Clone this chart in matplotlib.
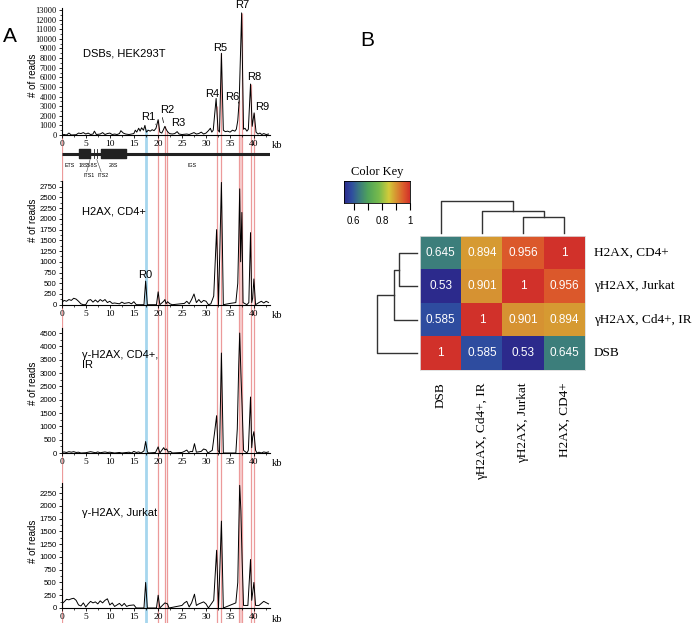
import numpy as np
import matplotlib
matplotlib.use('Agg')
import matplotlib.pyplot as plt
from matplotlib.colors import LinearSegmentedColormap
from matplotlib.ticker import MultipleLocator

# ---------------- data ----------------
dsb_kb = [0, 0.5, 1, 1.5, 2, 3, 3.5, 4, 4.5, 5, 5.5, 6, 6.5, 6.8, 7.2, 8, 8.5, 9, 9.5, 10, 10.5, 11, 11.5, 12,
          12.3, 12.8, 13.3, 14, 14.5, 15, 15.3, 15.6, 16, 16.3, 16.6, 17, 17.3, 17.6, 18, 18.4, 18.8, 19.2, 19.6,
          20.05, 20.4, 20.8, 21.1, 21.45, 21.7, 22, 22.4, 23, 23.5, 24, 24.4, 25, 26, 26.5, 27.5, 28, 28.5, 29,
          29.5, 30, 30.5, 30.9, 31.2, 31.5, 32.1, 32.5, 32.8, 33.2, 33.6, 34, 34.5, 35, 35.5, 36, 36.3, 36.6,
          36.9, 37.4, 37.8, 38.1, 38.5, 38.8, 39.25, 39.6, 40.0, 40.4, 40.8, 41.2, 41.6, 42, 42.5, 43]
dsb_reads = [0, 50, 0, 200, 0, 30, 200, 150, 250, 100, 200, 50, 100, 400, 50, 100, 250, 50, 150, 200, 50, 100, 50,
             150, 450, 200, 100, 50, 100, 150, 500, 300, 700, 400, 750, 500, 1000, 300, 500, 400, 550, 450, 700,
             1600, 300, 200, 500, 900, 600, 350, 150, 100, 150, 350, 100, 50, 100, 50, 250, 100, 150, 300, 100,
             200, 450, 700, 300, 500, 3800, 500, 300, 8500, 500, 350, 400, 300, 500, 400, 600, 1500, 3600, 12700,
             600, 700, 400, 600, 5300, 900, 2300, 300, 100, 200, 50, 150, 50, 100]

h2ax_kb = [0, 0.5, 1, 1.5, 2, 2.5, 3, 3.5, 4, 4.5, 5, 5.5, 6, 6.5, 7, 7.5, 8, 8.5, 9, 9.5, 10, 10.5, 11, 12, 12.5,
           13, 14, 14.5, 15, 15.5, 17.1, 17.45, 17.8, 19.7, 20.05, 20.4, 21.2, 21.45, 21.7, 22, 22.5, 23, 25.5, 26,
           26.5, 27, 27.5, 28, 28.5, 29, 29.5, 30, 30.5, 31, 31.6, 32.2, 32.6, 33.2, 33.6, 35, 36.2, 36.6, 36.8,
           37.0, 37.2, 37.45, 37.7, 38.5, 38.9, 39.25, 39.5, 39.7, 39.95, 40.3, 41, 41.5, 42, 42.5, 43]
h2ax_reads = [50, 100, 80, 120, 100, 150, 130, 80, 20, 0, 0, 100, 120, 60, 110, 60, 120, 80, 120, 50, 80, 30, 40,
              20, 60, 30, 50, 20, 70, 0, 0, 550, 0, 0, 300, 0, 80, 120, 20, 70, 20, 0, 30, 80, 20, 120, 250, 50,
              120, 50, 100, 80, 0, 20, 200, 1750, 0, 2850, 0, 30, 50, 500, 1500, 2700, 1000, 2150, 50, 0, 50, 1680,
              50, 150, 600, 0, 50, 80, 40, 80, 50]

ir_kb = [0, 0.5, 1, 1.5, 2, 2.5, 3, 3.5, 4, 5, 6, 6.5, 7, 7.5, 8, 9, 9.5, 10, 11, 12, 12.5, 14, 14.5, 15, 15.5, 16,
         16.5, 17.1, 17.45, 17.8, 18, 19.5, 20.05, 20.4, 21.2, 21.45, 21.8, 22.2, 22.6, 23, 25, 25.5, 26, 26.4,
         26.8, 27.2, 27.6, 28, 29, 29.5, 30, 30.4, 31.3, 31.8, 32.2, 32.5, 32.8, 33.2, 33.6, 36.2, 36.5, 36.8,
         37.0, 37.25, 37.5, 37.8, 38.5, 38.8, 39.25, 39.5, 39.7, 39.95, 40.3, 40.6, 41, 41.5, 42, 42.5, 43]
ir_reads = [20, 40, 20, 50, 30, 50, 20, 30, 0, 10, 50, 30, 10, 40, 10, 40, 20, 30, 0, 20, 0, 30, 0, 60, 20, 40, 0,
            80, 430, 50, 0, 20, 230, 0, 200, 120, 150, 30, 60, 0, 20, 60, 110, 20, 60, 50, 350, 30, 60, 150, 120,
            0, 100, 800, 1400, 100, 0, 3750, 0, 0, 900, 3300, 4500, 3000, 1750, 100, 0, 100, 2100, 200, 600, 800,
            100, 0, 30, 0, 40, 20, 40]

jur_kb = [0, 0.5, 1, 1.5, 2, 2.5, 3, 3.5, 4, 4.5, 5, 5.5, 6, 6.5, 7, 7.5, 8, 8.5, 9, 9.5, 10, 10.5, 11, 11.5, 12,
          12.5, 13, 13.5, 14, 15, 15.5, 17.1, 17.45, 17.8, 19.7, 20.05, 20.4, 21.45, 22, 22.3, 25, 25.5, 26, 26.5,
          27, 27.6, 28, 28.5, 29.5, 30, 30.5, 31.6, 32.2, 32.6, 33.2, 33.6, 36.2, 36.6, 36.8, 37.0, 37.25, 37.5,
          37.8, 38.7, 39.25, 39.5, 39.7, 39.95, 40.3, 41, 42, 43]
jur_reads = [80, 120, 170, 160, 180, 190, 150, 60, 40, 100, 20, 80, 130, 100, 120, 80, 140, 100, 150, 180, 60, 100,
             30, 60, 90, 40, 90, 30, 50, 60, 0, 0, 500, 0, 0, 250, 0, 100, 80, 0, 50, 100, 130, 20, 100, 270, 50,
             80, 120, 80, 0, 150, 1130, 0, 1700, 0, 100, 500, 1500, 2400, 1900, 950, 50, 50, 950, 150, 300, 500,
             50, 50, 130, 80]

red_lines_kb = [0, 20.06, 21.45, 21.93, 32.2, 33.2, 36.9, 37.4, 39.25, 40.0]
blue_line_kb = 17.44
band_kb = (36.9, 37.4)

peak_labels = ['R1', 'R2', 'R3', 'R4', 'R5', 'R6', 'R7', 'R8', 'R9']

corr_labels = ['DSB', 'γH2AX, Cd4+, IR', 'γH2AX, Jurkat', 'H2AX, CD4+']
corr = np.array([[1.0, 0.585, 0.53, 0.645],
                 [0.585, 1.0, 0.901, 0.894],
                 [0.53, 0.901, 1.0, 0.956],
                 [0.645, 0.894, 0.956, 1.0]])
col_merge_heights = [0.5, 0.69, 1.0]
row_merge_heights = [0.45, 0.575, 1.0]

# ---------------- figure ----------------
W, H = 697, 623
fig = plt.figure(figsize=(W / 100, H / 100), dpi=100)


def ax_px(x0, y0, x1, y1, **kw):
    return fig.add_axes([x0 / W, 1 - y1 / H, (x1 - x0) / W, (y1 - y0) / H], **kw)


def fx(px):
    return px / W


def fy(py):
    return 1 - py / H


X0, X1 = 61.7, 270.0
XMAX = 43.3
SANS = 'Liberation Sans'
SERIF = 'Liberation Serif'
red = '#ec9a9a'
blue = '#a6d6ee'

# overlay for vertical guide lines
ov = ax_px(X0, 135, X1, 623, zorder=0)
ov.set_xlim(0, XMAX)
ov.set_ylim(0, 1)
ov.axis('off')
ov.axvspan(band_kb[0], band_kb[1], color='#f7d0d0', lw=0)
for k in red_lines_kb:
    ov.axvline(k, color=red, lw=0.9)
ov.axvline(blue_line_kb, color=blue, lw=2.0)


def style_axis(ax, ymax, major, minor, ysize=5.6, yfam=SANS):
    ax.set_xlim(0, XMAX)
    ax.set_ylim(0, ymax)
    ax.patch.set_visible(False)
    for s in ['top', 'right']:
        ax.spines[s].set_visible(False)
    ax.spines['left'].set_linewidth(0.8)
    ax.spines['bottom'].set_linewidth(0.8)
    ax.spines['left'].set_bounds(0, ymax)
    ax.spines['bottom'].set_bounds(0, XMAX)
    ax.yaxis.set_major_locator(MultipleLocator(major))
    ax.yaxis.set_minor_locator(MultipleLocator(minor))
    ax.xaxis.set_minor_locator(MultipleLocator(2.5))
    ax.set_xticks([0, 5, 10, 15, 20, 25, 30, 35, 40])
    ax.tick_params(axis='both', which='major', length=2.5, width=0.6, pad=1.2)
    ax.tick_params(axis='both', which='minor', length=1.5, width=0.5)
    for lab in ax.get_yticklabels():
        lab.set_family(yfam)
        lab.set_fontsize(ysize)
    for lab in ax.get_xticklabels():
        lab.set_family(SERIF)
        lab.set_fontsize(6.8)


# panel 1
a1 = ax_px(X0, 8.1, X1, 135, zorder=2)
a1.set_yticks(np.arange(0, 13001, 1000))
style_axis(a1, 13200, 1000, 500, ysize=6.0, yfam=SERIF)
for k in red_lines_kb[1:]:
    a1.vlines(k, 0, np.interp(k, dsb_kb, dsb_reads), color=red, lw=0.9, zorder=1)
a1.vlines(blue_line_kb, 0, np.interp(blue_line_kb, dsb_kb, dsb_reads), color=blue, lw=2.0, zorder=1)
a1.plot(dsb_kb, dsb_reads, color='black', lw=0.7, zorder=3)

# panel 2
a2 = ax_px(X0, 180.7, X1, 304.7, zorder=2)
a2.set_yticks(np.arange(0, 2751, 250))
style_axis(a2, 2890, 250, 125)
a2.plot(h2ax_kb, h2ax_reads, color='black', lw=0.7)

# panel 3
a3 = ax_px(X0, 327.7, X1, 453, zorder=2)
a3.set_yticks(np.arange(0, 4501, 500))
style_axis(a3, 4700, 500, 250)
a3.plot(ir_kb, ir_reads, color='black', lw=0.7)

# panel 4
a4 = ax_px(X0, 482.8, X1, 608, zorder=2)
a4.set_yticks(np.arange(0, 2251, 250))
style_axis(a4, 2450, 250, 125)
a4.plot(jur_kb, jur_reads, color='black', lw=0.7)

for py in [146, 316, 464, 619]:
    fig.text(fx(272), fy(py), 'kb', family=SERIF, fontsize=7.5, ha='left', va='center')

# gene diagram
g = ax_px(X0, 147, X1, 180, zorder=2)
g.set_xlim(0, XMAX)
g.set_ylim(0, 1)
g.axis('off')
g.plot([0, XMAX], [0.8, 0.8], color='#222222', lw=2.2, solid_capstyle='butt')
g.broken_barh([(3.6, 2.3), (8.2, 5.1)], (0.66, 0.28), color='#222222')
g.plot([6.8, 6.8], [0.66, 0.94], color='#222222', lw=0.6)
g.plot([7.3, 7.3], [0.66, 0.94], color='#222222', lw=0.6)
g.plot([XMAX, XMAX], [0.62, 0.98], color='#222222', lw=0.6)
for txt, xk, yy in [('ETS', 1.7, 0.45), ('18S', 4.4, 0.45), ('5.8S', 6.3, 0.45), ('28S', 10.7, 0.45),
                    ('ITS1', 5.6, 0.15), ('ITS2', 8.5, 0.15), ('IGS', 27.0, 0.45)]:
    g.text(xk, yy, txt, fontsize=3.8, family=SANS, ha='center', va='center')
g.plot([5.9, 5.2], [0.62, 0.25], color='#444444', lw=0.4)
g.plot([7.3, 8.2], [0.62, 0.25], color='#444444', lw=0.4)

# texts of panel A
fig.text(fx(83), fy(53), 'DSBs, HEK293T', family=SANS, fontsize=8, va='center')
fig.text(fx(82), fy(211), 'H2AX, CD4+', family=SANS, fontsize=8, va='center')
fig.text(fx(82), fy(360), 'γ-H2AX, CD4+,\nIR', family=SANS, fontsize=8, va='center', linespacing=1.1)
fig.text(fx(82), fy(513), 'γ-H2AX, Jurkat', family=SANS, fontsize=8, va='center')
fig.text(fx(145), fy(275), 'R0', family=SANS, fontsize=8, ha='center', va='center')
for lab, px, py in zip(peak_labels, [148, 167, 178, 212, 220, 232, 242, 254, 262],
                       [117, 110, 123, 94, 48, 97, 5, 77, 107]):
    fig.text(fx(px), fy(py), lab, family=SANS, fontsize=8, ha='center', va='center')
a1.annotate('', xy=(19.9, 900), xytext=(19.1, 1350), arrowprops=dict(arrowstyle='-', lw=0.5, color='black'))
a1.annotate('', xy=(21.3, 1000), xytext=(20.8, 2100), arrowprops=dict(arrowstyle='-', lw=0.5, color='black'))
a1.annotate('', xy=(36.8, 3300), xytext=(36.5, 3700), arrowprops=dict(arrowstyle='-', lw=0.5, color='black'))

for px, py in [(33, 75), (33, 220), (33, 383), (33, 541)]:
    fig.text(fx(px), fy(py), '# of reads', family=SANS, fontsize=7, rotation=90, ha='center', va='center')

fig.text(fx(3), fy(37), 'A', family=SANS, fontsize=15, va='center')
fig.text(fx(360), fy(40), 'B', family=SANS, fontsize=15, va='center')

# ---------------- panel B ----------------
vmin, vmax = 0.53, 1.0
nodes = [(0.53, '#2c2a8c'), (0.585, '#2f4ea0'), (0.645, '#3d7f7b'), (0.70, '#4fa35a'),
         (0.78, '#78bb4c'), (0.85, '#d3cb3a'), (0.894, '#d69b33'), (0.956, '#dc5a2c'), (1.0, '#d1312a')]
cmap = LinearSegmentedColormap.from_list('key', [((v - vmin) / (vmax - vmin), c) for v, c in nodes])

order_rows = [3, 2, 1, 0]
hm = ax_px(420, 236, 585, 370)
mat = corr[order_rows, :]
hm.imshow(mat, cmap=cmap, vmin=vmin, vmax=vmax, aspect='auto')
for i in range(4):
    for j in range(4):
        v = mat[i, j]
        s = '1' if v == 1 else ('%g' % v)
        hm.text(j, i, s, ha='center', va='center', color='white', fontsize=8.5, family=SANS)
hm.set_xticks([])
hm.set_yticks([])
for s in hm.spines.values():
    s.set_color('#dddddd')
    s.set_linewidth(0.6)
for i, r in enumerate(order_rows):
    hm.text(3.72, i, corr_labels[r], ha='left', va='center', family=SERIF, fontsize=9.5)
for j in range(4):
    hm.text(j, 3.86, corr_labels[j], ha='center', va='top', rotation=90, family=SERIF, fontsize=9.5)

# column dendrogram
cd = ax_px(420, 201, 585, 233)
cd.set_xlim(-0.5, 3.5)
cd.set_ylim(0, col_merge_heights[2])
cd.axis('off')
kw = dict(color='#333333', lw=1.0, clip_on=False)
m1 = (2 + 3) / 2
m2 = (1 + m1) / 2
cd.plot([2, 2, 3, 3], [0, col_merge_heights[0], col_merge_heights[0], 0], **kw)
cd.plot([1, 1, m1, m1], [0, col_merge_heights[1], col_merge_heights[1], col_merge_heights[0]], **kw)
cd.plot([0, 0, m2, m2], [0, col_merge_heights[2], col_merge_heights[2], col_merge_heights[1]], **kw)

# row dendrogram
rd = ax_px(377, 236, 417, 370)
rd.set_ylim(3.5, -0.5)
rd.set_xlim(row_merge_heights[2], 0)
rd.axis('off')
r1 = (0 + 1) / 2
r2 = (r1 + 2) / 2
rd.plot([0, row_merge_heights[0], row_merge_heights[0], 0], [0, 0, 1, 1], **kw)
rd.plot([0, row_merge_heights[1], row_merge_heights[1], row_merge_heights[0]], [2, 2, r1, r1], **kw)
rd.plot([0, row_merge_heights[2], row_merge_heights[2], row_merge_heights[1]], [3, 3, r2, r2], **kw)

# color key
ck = ax_px(344, 181, 410, 203)
grad = np.linspace(vmin, vmax, 256)[None, :]
ck.imshow(grad, cmap=cmap, vmin=vmin, vmax=vmax, aspect='auto', extent=[vmin, vmax, 0, 1])
ck.set_yticks([])
ck.set_xticks([0.6, 0.7, 0.8, 0.9, 1.0])
ck.set_xticklabels(['0.6', '', '0.8', '', '1'], family=SANS, fontsize=7)
ck.tick_params(axis='x', length=5, width=0.8, pad=4)
for s in ck.spines.values():
    s.set_linewidth(0.6)
fig.text(fx(377), fy(172), 'Color Key', family=SERIF, fontsize=9, ha='center', va='center')

fig.savefig('out.png', dpi=100)
